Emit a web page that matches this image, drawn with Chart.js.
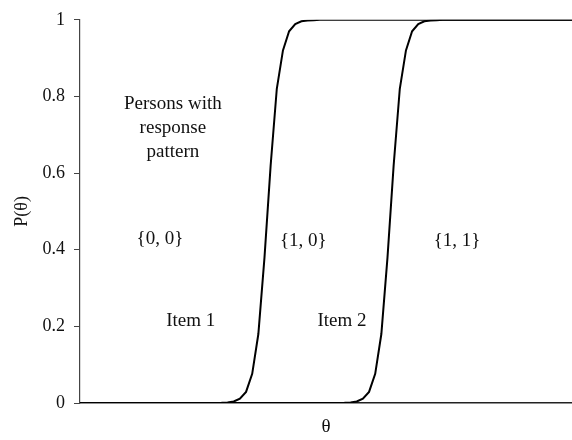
<!DOCTYPE html>
<html>
<head>
<meta charset="utf-8">
<script src="https://cdn.jsdelivr.net/npm/chart.js@4.4.0/dist/chart.umd.min.js"></script>
<style>
  html, body { margin: 0; padding: 0; background: #fff; }
  #wrap { width: 572px; height: 440px; }
</style>
</head>
<body>
<div id="wrap"><canvas id="c" width="572" height="440"></canvas></div>
<script>
// ---- data ----
const theta = [-4, -1.8, -1.7, -1.6, -1.5, -1.4, -1.3, -1.2, -1.1, -1.0, -0.9, -0.8, -0.7, -0.6, -0.5, -0.4, -0.3, -0.2, -0.1,
  0, 0.1, 0.2, 0.3, 0.4, 0.5, 0.6, 0.7, 0.8, 0.9, 1.0, 1.1, 1.2, 1.3, 1.4, 1.5, 1.6, 1.7, 1.8, 1.9, 2.0, 4];
const item1 = [0, 0.0002, 0.0006, 0.0015, 0.004, 0.011, 0.029, 0.076, 0.18, 0.38, 0.62, 0.82, 0.92, 0.97, 0.989, 0.996, 0.998, 0.999, 1,
  1, 1, 1, 1, 1, 1, 1, 1, 1, 1, 1, 1, 1, 1, 1, 1, 1, 1, 1, 1, 1, 1];
const item2 = [0, 0, 0, 0, 0, 0, 0, 0, 0, 0, 0, 0, 0, 0, 0, 0, 0, 0, 0,
  0, 0, 0.0002, 0.0006, 0.0015, 0.004, 0.011, 0.029, 0.076, 0.18, 0.38, 0.62, 0.82, 0.92, 0.97, 0.989, 0.996, 0.998, 0.999, 1, 1, 1];
const yTicks = [0, 0.2, 0.4, 0.6, 0.8, 1];
const yTickLabels = ['0', '0.2', '0.4', '0.6', '0.8', '1'];
const seriesNames = ['Item 1', 'Item 2'];

// text annotations (label, theta, P)
const notes = [
  ['Persons with', -2.49, 0.781],
  ['response', -2.49, 0.717],
  ['pattern', -2.49, 0.656],
  ['{0, 0}', -2.70, 0.427],
  ['{1, 0}', -0.37, 0.424],
  ['{1, 1}', 2.13, 0.424],
  ['Item 1', -2.20, 0.213],
  ['Item 2', 0.26, 0.213]
];

const FONT = '"Liberation Serif", "Times New Roman", serif';

const notesPlugin = {
  id: 'notes',
  afterDatasetsDraw(chart) {
    const ctx = chart.ctx;
    const xs = chart.scales.x, ys = chart.scales.y;
    ctx.save();
    ctx.fillStyle = '#111';
    ctx.font = '19px ' + FONT;
    ctx.textAlign = 'center';
    ctx.textBaseline = 'middle';
    notes.forEach(([t, x, y]) => {
      ctx.fillText(t, xs.getPixelForValue(x), ys.getPixelForValue(y));
    });
    ctx.restore();
  }
};

const mk = (vals) => theta.map((t, i) => ({ x: t, y: vals[i] }));

new Chart(document.getElementById('c'), {
  type: 'scatter',
  data: {
    datasets: [
      { label: seriesNames[0], data: mk(item1), showLine: true, borderColor: '#000', borderWidth: 2, pointRadius: 0, tension: 0, fill: false },
      { label: seriesNames[1], data: mk(item2), showLine: true, borderColor: '#000', borderWidth: 2, pointRadius: 0, tension: 0, fill: false }
    ]
  },
  options: {
    responsive: false,
    animation: false,
    devicePixelRatio: 1,
    layout: { padding: { top: 14, right: 0, bottom: 0, left: 0 } },
    plugins: { legend: { display: false }, tooltip: { enabled: false } },
    scales: {
      x: {
        type: 'linear', min: -4, max: 4,
        grid: { display: false },
        border: { display: true, color: '#222', width: 1.5 },
        ticks: { display: false },
        title: { display: true, text: 'θ', color: '#111', font: { family: FONT, size: 19 }, padding: { top: 0, bottom: 2 } },
        afterFit: (s) => { s.height = 37; }
      },
      y: {
        type: 'linear', min: 0, max: 1,
        afterBuildTicks: (s) => { s.ticks = yTicks.map(v => ({ value: v })); },
        grid: { display: true, drawOnChartArea: false, drawTicks: true, tickLength: 6, color: '#444', lineWidth: 1 },
        border: { display: true, color: '#444', width: 1.2 },
        ticks: {
          color: '#111', padding: 9, font: { family: FONT, size: 18 },
          callback: (v) => yTickLabels[yTicks.indexOf(v)] ?? String(v)
        },
        title: { display: true, text: 'P(θ)', color: '#111', font: { family: FONT, size: 18 }, padding: { top: 11, bottom: 0 } },
        afterFit: (s) => { s.width = 80; }
      }
    }
  },
  plugins: [notesPlugin]
});
</script>
</body>
</html>
